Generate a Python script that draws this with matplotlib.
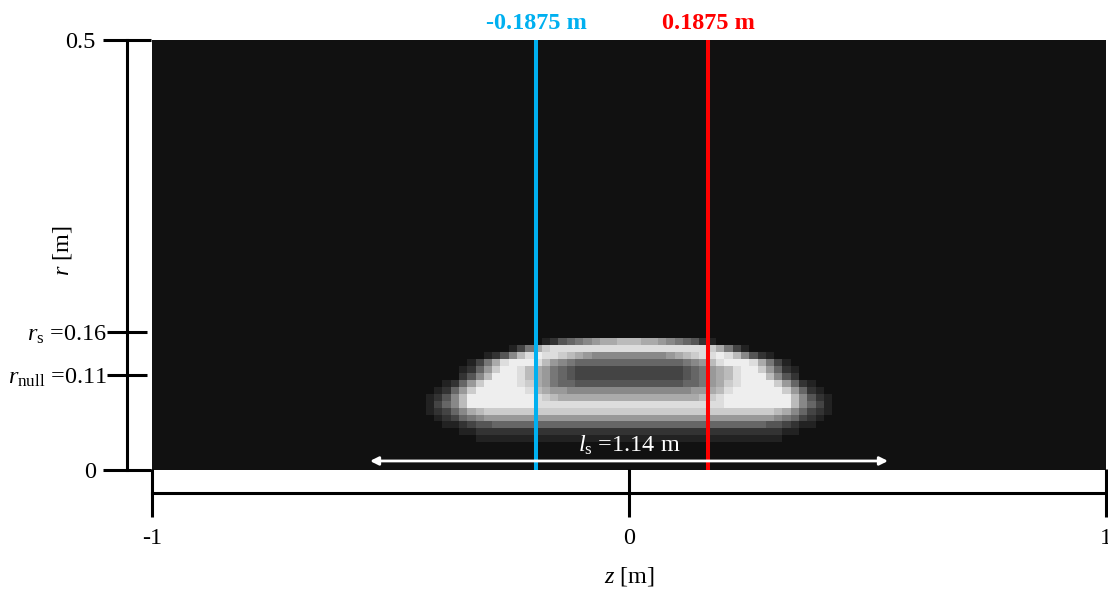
import numpy as np
import matplotlib
matplotlib.use("Agg")
import matplotlib.pyplot as plt

plt.rcParams['font.family'] = ['Liberation Serif', 'DejaVu Serif']
plt.rcParams['mathtext.fontset'] = 'custom'
plt.rcParams['mathtext.rm'] = 'Liberation Serif'
plt.rcParams['mathtext.it'] = 'Liberation Serif:italic'

# field image grid (z columns x r rows)
n_z, n_r = 115, 62
z_range = (-1.0, 1.0)
r_range = (0.0, 0.5)
bg_level = 1  # grey level of the dark background, hex 0-f

# bright shell, read cell by cell: centre column first, then outwards
# (the picture is mirror symmetric about z = 0), grey level in hex 0-f
shell_rows = list(range(18, 3, -1))
shell_half = [
    "bbaa987653211111111111111",
    "ddddddddddca7421111111111",
    "888889abcddedb85321111111",
    "6666666789bdeeeda74211111",
    "44444445679abdeec96321111",
    "44444445679abdeeeb8531111",
    "55555556679acdeeeec963211",
    "8888888899abdeeeeeec96321",
    "aaaaaaaaabcdeeeeeeeeb8532",
    "ddddddddddddeeeeeeeeb8642",
    "ccccccccccccccccccba86432",
    "9999999999999999998764321",
    "6666666666666666655432211",
    "3333333333333333333221111",
    "2222222222222222222111111",
]

# cut positions (labels as printed, positions as drawn)
cut_z = [-0.195, 0.166]
cut_labels = ['-0.1875 m', '0.1875 m']
cut_colors = ['#00B0F0', '#FF0000']

# separatrix length arrow
ls_ends = (-0.543, 0.543)
ls_r = 0.0105
ls_text = r'$l_{\mathrm{s}}$ =1.14 m'
ls_text_r = 0.029

x_ticks = [-1, 0, 1]
x_ticklabels = ['-1', '0', '1']
y_ticks = [0, 0.5]
y_ticklabels = ['0', '0.5']
y_minor = [0.11, 0.16]
y_minor_labels = [r'$r_{\mathrm{null}}$ =0.11', r'$r_{\mathrm{s}}$ =0.16']

fs = 17.5

# build the image
img = np.full((n_r, n_z), bg_level / 15.0)
mid = n_z // 2
for k, row in zip(shell_rows, shell_half):
    vals = [int(ch, 16) / 15.0 for ch in row]
    full = vals[::-1] + vals[1:]
    half = len(vals) - 1
    img[k, mid - half:mid + half + 1] = full

fig = plt.figure(figsize=(11.08, 5.92), dpi=100)
ax = fig.add_axes([152 / 1108, 1 - 470 / 592, 954 / 1108, 430 / 592])

ax.imshow(img, origin='lower', extent=[*z_range, *r_range], cmap='gray',
          vmin=0, vmax=1, interpolation='nearest', aspect='auto')
ax.set_xlim(*z_range)
ax.set_ylim(*r_range)

for z, lab, col in zip(cut_z, cut_labels, cut_colors):
    ax.axvline(z, color=col, lw=2.9)
    ax.text(z, 1.038, lab, color=col, fontsize=fs, fontweight='bold',
            ha='center', va='center', transform=ax.get_xaxis_transform())

ax.annotate('', xy=(ls_ends[1], ls_r), xytext=(ls_ends[0], ls_r),
            arrowprops=dict(arrowstyle='<|-|>', color='white', lw=2,
                            mutation_scale=12, shrinkA=0, shrinkB=0))
ax.text(0, ls_text_r, ls_text, color='white', fontsize=fs,
        ha='center', va='center')

# axes: detached spines, long in-out ticks
for side in ['top', 'right']:
    ax.spines[side].set_visible(False)
ax.spines['left'].set_position(('outward', 18))
ax.spines['bottom'].set_position(('outward', 16.5))
ax.spines['left'].set_linewidth(2.2)
ax.spines['bottom'].set_linewidth(2.2)

ax.set_xticks(x_ticks, labels=x_ticklabels)
ax.set_yticks(y_ticks, labels=y_ticklabels)
ax.set_yticks(y_minor, labels=y_minor_labels, minor=True)
ax.tick_params(axis='x', which='major', direction='inout', length=35,
               width=2.2, labelsize=fs, pad=8)
ax.tick_params(axis='y', which='major', direction='inout', length=35,
               width=2.2, labelsize=fs, pad=5)
ax.tick_params(axis='y', which='minor', direction='inout', length=29,
               width=2.2, labelsize=fs, pad=0)

ax.set_xlabel(r'$z$ [m]', fontsize=fs)
ax.set_ylabel(r'$r$ [m]', fontsize=fs)
ax.xaxis.set_label_coords(0.5, -0.222)
ax.yaxis.set_label_coords(-0.082, 0.51)

fig.savefig('out.png', dpi=100)
